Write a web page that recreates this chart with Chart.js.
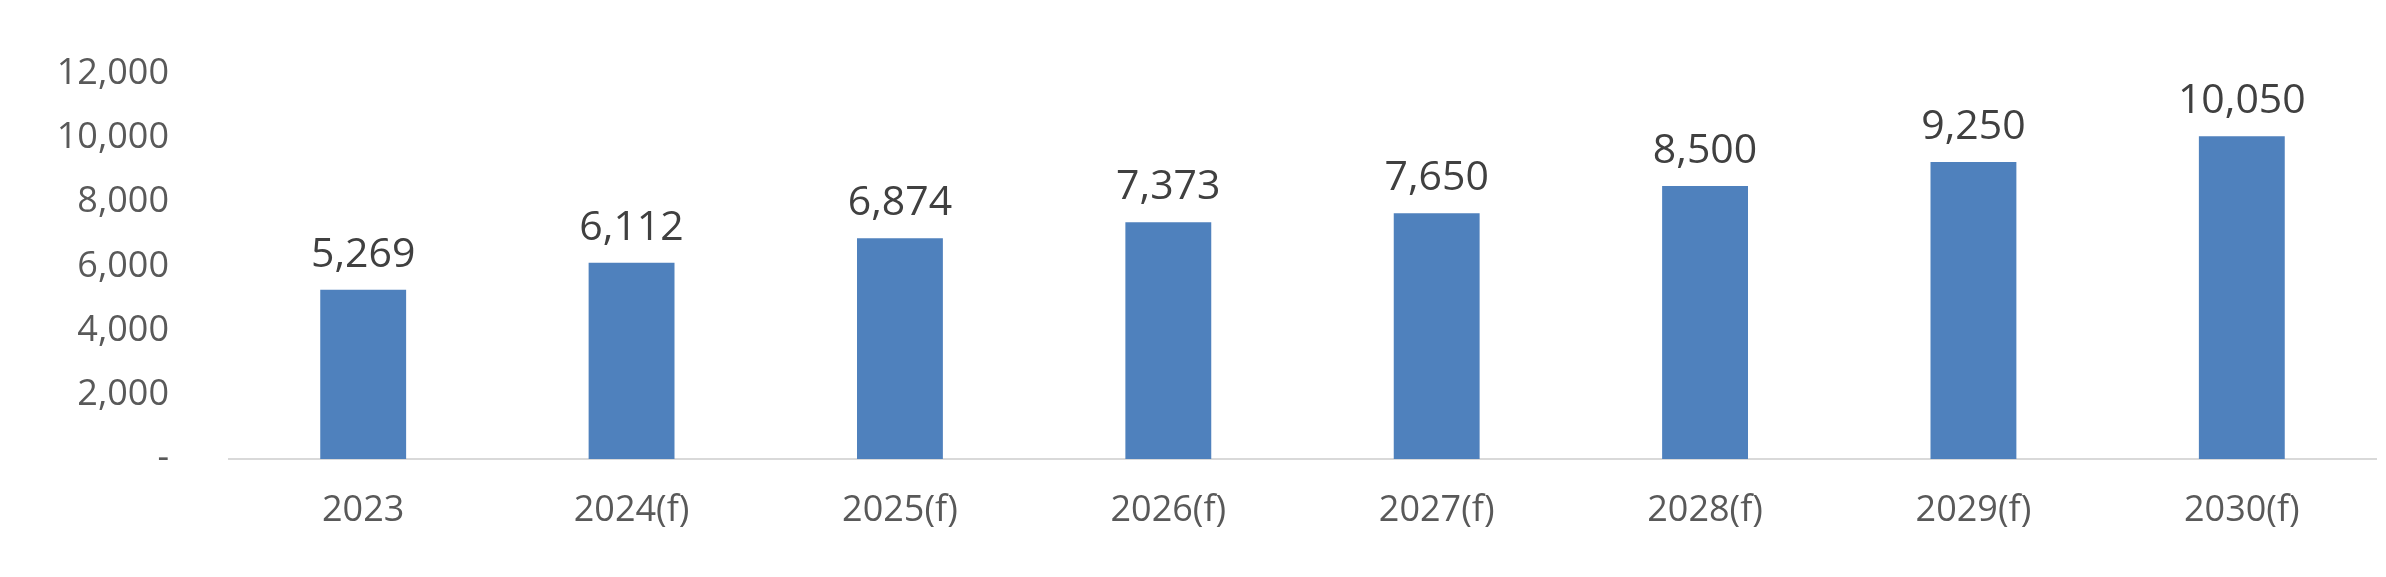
<!DOCTYPE html>
<html>
<head>
<meta charset="utf-8">
<script src="https://cdn.jsdelivr.net/npm/chart.js@4.4.1/dist/chart.umd.min.js"></script>
<style>
  html, body { margin: 0; padding: 0; background: #fff; }
  #wrap { width: 2386px; height: 577px; }
</style>
</head>
<body>
<div id="wrap"><canvas id="chart"></canvas></div>
<script>
const categories = ['2023', '2024(f)', '2025(f)', '2026(f)', '2027(f)', '2028(f)', '2029(f)', '2030(f)'];
const values = [5269, 6112, 6874, 7373, 7650, 8500, 9250, 10050];
const yTicks = [0, 2000, 4000, 6000, 8000, 10000, 12000];

const fmt = v => v === 0 ? '-' : v.toLocaleString('en-US');

// draw the value above every bar
const barLabels = {
    id: 'barLabels',
    afterDatasetsDraw(chart) {
        const ctx = chart.ctx;
        const meta = chart.getDatasetMeta(0);
        ctx.save();
        ctx.font = '41px "Open Sans", "Liberation Sans", sans-serif';
        ctx.fillStyle = '#404040';
        ctx.textAlign = 'center';
        ctx.textBaseline = 'bottom';
        meta.data.forEach((bar, i) => {
            ctx.fillText(fmt(values[i]), bar.x, bar.y - 14);
        });
        ctx.restore();
    }
};

new Chart(document.getElementById('chart'), {
    type: 'bar',
    data: {
        labels: categories,
        datasets: [{
            data: values,
            backgroundColor: '#4F81BD',
            categoryPercentage: 1,
            barPercentage: 0.32
        }]
    },
    options: {
        responsive: true,
        maintainAspectRatio: false,
        animation: false,
        layout: { padding: { top: 19, right: 10, left: 0, bottom: 0 } },
        plugins: { legend: { display: false }, tooltip: { enabled: false } },
        scales: {
            x: {
                grid: { display: false },
                border: { color: '#D9D9D9', width: 2 },
                ticks: {
                    color: '#595959',
                    padding: 22,
                    font: { size: 36, family: '"Open Sans", "Liberation Sans", sans-serif' }
                },
                afterFit: s => { s.height = 118; }
            },
            y: {
                min: 0,
                max: 12000,
                afterBuildTicks: s => { s.ticks = yTicks.map(v => ({ value: v })); },
                grid: { display: false },
                border: { display: false },
                ticks: {
                    color: '#595959',
                    padding: 52,
                    callback: v => fmt(v),
                    font: { size: 36, family: '"Open Sans", "Liberation Sans", sans-serif' }
                },
                afterFit: s => { s.width = 229; }
            }
        }
    },
    plugins: [barLabels]
});
</script>
</body>
</html>
